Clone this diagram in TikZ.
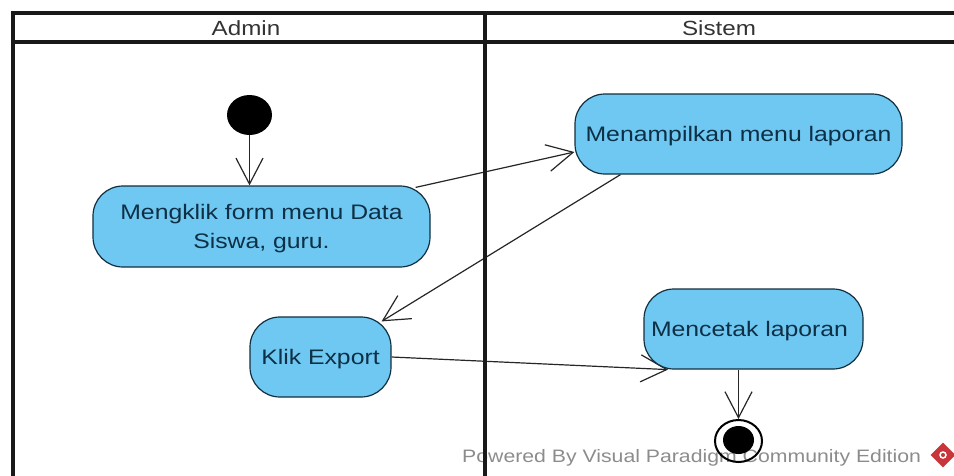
\documentclass[tikz,border=0pt]{standalone}
\usepackage{xcolor}
\usepackage{fontspec}
\setmainfont{Liberation Sans}[FakeStretch=1.18]
\usetikzlibrary{shapes.geometric,positioning,calc,arrows.meta,backgrounds}
\definecolor{actfill}{HTML}{6EC8F2}
\definecolor{actline}{HTML}{12303F}
\definecolor{acttext}{HTML}{0E2F45}
\definecolor{markgray}{HTML}{8C8C8C}
\definecolor{markred}{HTML}{C8353A}
\tikzset{
    lane/.style={line width=3.4pt, black!90},
    lanehead/.style={font=\fontsize{20.5}{24}\selectfont, text=black!80, inner sep=0pt},
    action/.style={draw=actline, fill=actfill, line width=1.2pt, rounded corners=30pt, inner sep=0pt,
        align=center, text=acttext, text depth=0pt, font=\fontsize{21}{29}\selectfont},
    flow/.style={line width=1.2pt, black!85, -{Straight Barb[length=26pt,width=27pt,line width=1.2pt]}},
    startdot/.style={ellipse, fill=black, minimum width=45pt, minimum height=40pt, inner sep=0pt},
    endring/.style={ellipse, draw=black, line width=2pt, minimum width=47pt, minimum height=42pt, inner sep=0pt},
    enddot/.style={ellipse, fill=black, minimum width=31pt, minimum height=28pt, inner sep=0pt},
}
\begin{document}
\begin{tikzpicture}[x=1pt,y=-1pt]
    \useasboundingbox (0,0) rectangle (954,475);

    % Watermark
    \node[anchor=west, inner sep=0pt, text=markgray, font=\fontsize{18}{20}\selectfont] (mark) at (462,458) {Powered By  Visual Paradigm Community Edition};
    \node[diamond, fill=markred, minimum width=25pt, minimum height=25pt, inner sep=0pt] (logo) at (943,455) {};
    \node[circle, draw=white, line width=1.5pt, minimum size=6pt, inner sep=0pt] (logomark) at (logo) {};

    % Lanes
    \coordinate (laneTL) at (13,13);
    \coordinate (laneTR) at (960,13);
    \coordinate (headL) at (13,42);
    \coordinate (headR) at (960,42);
    \coordinate (laneBL) at (13,480);
    \coordinate (midT) at (485,13);
    \coordinate (midB) at (485,480);
    \draw[lane] (laneBL) -- (laneTL) -- (laneTR);
    \draw[lane] (headL) -- (headR);
    \draw[lane] (midT) -- (midB);
    \node[lanehead] (admin) at (246,28) {Admin};
    \node[lanehead] (sistem) at (719,28) {Sistem};

    % Actions
    \node[startdot] (start) at (249.5,115) {};
    \node[action, minimum width=337pt, minimum height=81pt] (klikmenu) at (261.5,226.5) {Mengklik form menu Data\\Siswa, guru.};
    \node[action, minimum width=327pt, minimum height=80pt] (tampil) at (738.5,134) {Menampilkan menu laporan};
    \node[action, minimum width=141pt, minimum height=80pt] (export) at (320.5,357) {Klik Export};
    \node[action, minimum width=219pt, minimum height=80pt] (cetak) at (753.5,329) {Mencetak laporan\hspace{8pt}};
    \node[endring] (finish) at (738.5,441) {};
    \node[enddot] (finishdot) at (738.5,440) {};

    % Flows
    \begin{scope}[on background layer]
    \draw[flow] (start) -- (klikmenu.north -| start);
    \draw[flow] ([shift={(-15,2)}]klikmenu.north east) -- ([yshift=-18]tampil.west);
    \draw[flow] ([xshift=-118]tampil.south) -- ([shift={(-10,5)}]export.north east);
    \draw[flow] (export.east) -- ([xshift=-85.5]cetak.south);
    \draw[flow] (cetak.south -| finish) -- (finish.north);
    \end{scope}
\end{tikzpicture}
\end{document}
